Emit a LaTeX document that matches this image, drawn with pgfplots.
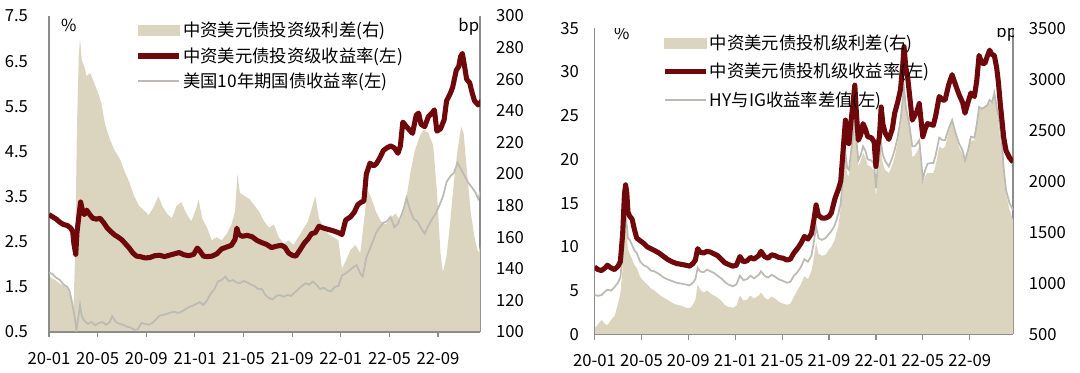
\documentclass[border=0pt]{standalone}
\usepackage{fontspec}
\setmainfont{Noto Sans CJK SC}
\usepackage{pgfplots}
\pgfplotsset{compat=1.18}
\definecolor{ared}{RGB}{110,8,10}
\definecolor{abeige}{RGB}{219,213,192}
\definecolor{agray}{RGB}{188,186,178}
\definecolor{spine}{RGB}{140,140,140}
\newcommand{\tfont}{\fontsize{12.5}{14}\selectfont}
\newcommand{\lfont}{\fontsize{13}{15}\selectfont}
\pgfplotsset{
  basestyle/.style={
    scale only axis, clip=true,
    tick label style={font=\tfont, text=black},
    /pgf/number format/assume math mode=true,
    /pgf/number format/1000 sep={},
    axis line style={spine, line width=0.9pt},
    ytick style={draw=none},
    xtick style={spine, line width=0.9pt},
    xtick align=outside, major tick length=4pt,
  },
  xstyle/.style={xtick={0,4,...,32}, xticklabels={20-01,20-05,20-09,21-01,21-05,21-09,22-01,22-05,22-09},
    xticklabel style={yshift=-7.5pt}},
  legstyle/.style={legend cell align=left,
    legend style={draw=none, fill=none, font=\lfont, inner sep=0pt,
      nodes={inner sep=1pt}},
    legend image code/.code={\draw[##1] (0pt,0pt) -- (31pt,0pt);}},
  leftpanel/.style={basestyle, at={(36.75pt,30.75pt)}, anchor=south west, width=323.25pt, height=237pt, xmin=0, xmax=35.45},
  rightpanel/.style={basestyle, at={(445.9pt,29pt)}, anchor=south west, width=313.9pt, height=229.5pt, xmin=0, xmax=35.7},
}
\begin{document}
\begin{tikzpicture}[x=1pt,y=1pt]
\path[use as bounding box] (0,0) rectangle (810,279.75);
% ---------------- LEFT PANEL ----------------
\begin{axis}[leftpanel,
  ymin=100, ymax=300, ytick={100,120,...,300}, axis y line*=right, axis x line=none,
  yticklabel style={xshift=8.5pt}]
\addplot[fill=abeige, draw=none] coordinates {
(0,135)(0.5,133)(1.0,130)(1.5,128)(1.8,122)(2.0,112)(2.15,150)(2.3,230)(2.45,275)(2.55,286)(2.7,272)(2.9,268)(3.1,262)(3.4,264)(3.7,258)(4.0,252)(4.3,245)(4.6,232)(5.0,222)(5.4,215)(5.8,210)(6.2,202)(6.6,195)(7.0,186)(7.4,180)(7.8,177)(8.2,174)(8.6,179)(9.0,186)(9.3,180)(9.7,175)(10.1,172)(10.5,180)(10.9,182)(11.3,175)(11.7,170)(12.1,178)(12.3,184)(12.6,172)(13.0,166)(13.4,158)(13.8,160)(14.2,158)(14.6,162)(15.0,168)(15.3,176)(15.5,200)(15.7,188)(16.1,186)(16.5,184)(16.9,180)(17.3,176)(17.7,170)(18.1,166)(18.5,168)(18.9,160)(19.3,156)(19.7,158)(20.1,155)(20.5,160)(20.9,165)(21.3,170)(21.6,178)(21.9,186)(22.2,172)(22.6,166)(23.0,162)(23.4,160)(23.8,158)(24.1,140)(24.4,145)(24.8,152)(25.2,155)(25.6,150)(25.9,170)(26.2,190)(26.5,185)(26.9,176)(27.3,170)(27.7,168)(28.1,172)(28.5,175)(28.9,170)(29.3,180)(29.7,200)(30.1,215)(30.5,224)(30.8,228)(31.2,226)(31.6,218)(31.9,190)(32.2,150)(32.4,138)(32.7,148)(33.0,170)(33.3,195)(33.6,215)(33.9,230)(34.1,226)(34.4,200)(34.7,175)(35.0,160)(35.3,150)(35.6,158)
} \closedcycle;
\end{axis}
\begin{axis}[leftpanel, xstyle, legstyle,
  ymin=0.5, ymax=7.5, ytick={0.5,1.5,...,7.5}, axis y line*=left, axis x line*=bottom,
  yticklabel style={xshift=-12.3pt, /pgf/number format/.cd, fixed, fixed zerofill, precision=1},
  legend style={at={(0.20,0.985)}, anchor=north west, row sep=4.5pt}]
\addlegendimage{legend image code/.code={\fill[abeige] (0pt,-3.8pt) rectangle (31pt,3.8pt);}}
\addlegendentry{中资美元债投资级利差(右)}
\addplot[agray, line width=1.3pt, forget plot] coordinates {
(0,1.82)(0.3,1.78)(0.6,1.70)(0.9,1.65)(1.2,1.55)(1.5,1.50)(1.7,1.40)(1.9,1.15)(2.1,0.85)(2.25,0.55)(2.4,0.80)(2.55,1.10)(2.7,0.85)(2.9,0.75)(3.2,0.68)(3.5,0.72)(3.8,0.65)(4.1,0.70)(4.4,0.72)(4.7,0.66)(5.0,0.72)(5.2,0.85)(5.5,0.72)(5.8,0.68)(6.1,0.66)(6.4,0.62)(6.7,0.60)(7.0,0.55)(7.3,0.56)(7.6,0.70)(7.9,0.68)(8.2,0.66)(8.5,0.70)(8.8,0.78)(9.1,0.86)(9.4,0.88)(9.7,0.90)(10.0,0.93)(10.3,0.95)(10.6,0.92)(10.9,0.95)(11.2,1.00)(11.5,1.05)(11.8,1.08)(12.1,1.12)(12.4,1.16)(12.7,1.10)(13.0,1.20)(13.3,1.35)(13.6,1.45)(13.9,1.62)(14.2,1.65)(14.5,1.73)(14.8,1.62)(15.1,1.65)(15.4,1.60)(15.7,1.58)(16.0,1.63)(16.3,1.60)(16.6,1.55)(16.9,1.52)(17.2,1.45)(17.5,1.45)(17.8,1.32)(18.1,1.25)(18.4,1.22)(18.7,1.30)(19.0,1.32)(19.3,1.28)(19.6,1.32)(19.9,1.30)(20.2,1.37)(20.5,1.45)(20.8,1.52)(21.1,1.58)(21.4,1.55)(21.7,1.62)(22.0,1.55)(22.3,1.45)(22.6,1.48)(22.9,1.42)(23.2,1.40)(23.5,1.50)(23.8,1.52)(24.1,1.75)(24.4,1.80)(24.7,1.86)(25.0,1.93)(25.3,1.98)(25.6,1.80)(25.8,1.73)(26.1,2.15)(26.4,2.35)(26.7,2.55)(26.9,2.70)(27.2,2.82)(27.5,2.92)(27.8,2.95)(28.1,3.05)(28.4,2.82)(28.7,2.90)(29.0,3.10)(29.2,3.25)(29.4,3.47)(29.7,3.20)(30.0,3.00)(30.3,2.95)(30.6,2.80)(30.9,2.68)(31.2,2.85)(31.5,3.00)(31.8,3.12)(32.1,3.30)(32.4,3.50)(32.7,3.82)(33.0,3.95)(33.3,4.02)(33.6,4.25)(33.9,4.10)(34.2,3.95)(34.5,3.80)(34.8,3.70)(35.1,3.58)(35.3,3.45)(35.6,3.70)
};
\addplot[ared, line width=3.8pt, line join=round] coordinates {
(0,3.10)(0.3,3.05)(0.6,3.00)(0.9,2.93)(1.2,2.88)(1.5,2.86)(1.8,2.80)(1.95,2.72)(2.05,2.45)(2.2,2.22)(2.3,2.70)(2.45,3.05)(2.6,3.38)(2.75,3.20)(2.9,3.10)(3.1,3.20)(3.3,3.12)(3.6,3.02)(3.9,3.00)(4.2,3.02)(4.5,2.92)(4.8,2.80)(5.1,2.72)(5.4,2.65)(5.7,2.60)(6.0,2.54)(6.3,2.45)(6.6,2.36)(6.9,2.25)(7.2,2.18)(7.5,2.17)(7.9,2.14)(8.3,2.15)(8.7,2.19)(9.1,2.20)(9.5,2.17)(9.9,2.20)(10.3,2.23)(10.7,2.26)(11.1,2.21)(11.5,2.19)(11.9,2.22)(12.2,2.36)(12.4,2.30)(12.7,2.18)(13.0,2.17)(13.4,2.18)(13.8,2.23)(14.2,2.34)(14.6,2.38)(15.0,2.42)(15.3,2.55)(15.45,2.80)(15.6,2.66)(15.9,2.62)(16.3,2.64)(16.7,2.61)(17.1,2.53)(17.5,2.48)(17.9,2.44)(18.3,2.37)(18.7,2.40)(19.1,2.42)(19.4,2.38)(19.7,2.25)(20.0,2.20)(20.3,2.18)(20.6,2.30)(21.0,2.47)(21.3,2.56)(21.6,2.68)(21.9,2.70)(22.2,2.84)(22.6,2.80)(23.0,2.77)(23.4,2.74)(23.8,2.70)(24.1,2.66)(24.4,2.98)(24.8,3.05)(25.1,3.15)(25.4,3.32)(25.7,3.38)(25.9,3.40)(26.1,4.00)(26.4,4.24)(26.7,4.18)(26.9,4.22)(27.2,4.35)(27.5,4.52)(27.8,4.58)(28.1,4.62)(28.4,4.58)(28.7,4.46)(28.9,4.62)(29.1,5.15)(29.4,5.05)(29.7,4.96)(29.9,4.90)(30.2,5.30)(30.4,5.35)(30.6,5.10)(30.9,5.05)(31.2,5.27)(31.5,5.35)(31.7,5.42)(31.9,4.95)(32.2,5.00)(32.5,5.20)(32.7,5.62)(33.0,5.78)(33.2,5.92)(33.5,6.30)(33.7,6.38)(33.85,6.60)(34.0,6.67)(34.2,6.35)(34.35,6.10)(34.6,6.02)(34.8,5.80)(35.0,5.62)(35.3,5.53)(35.6,5.62)
};
\addlegendentry{中资美元债投资级收益率(左)}
\addlegendimage{agray, line width=1.3pt}
\addlegendentry{美国10年期国债收益率(左)}
\node[font=\tfont] at (axis description cs:0.046,0.97) {\%};
\node[font=\tfont] at (axis description cs:0.974,0.965) {bp};
\end{axis}
% ---------------- RIGHT PANEL ----------------
\begin{axis}[rightpanel,
  ymin=500, ymax=3500, ytick={500,1000,...,3500}, axis y line*=right, axis x line=none,
  yticklabel style={xshift=8.3pt}]
\addplot[fill=abeige, draw=none] coordinates {
(0,560)(0.3,600)(0.6,640)(0.9,600)(1.1,590)(1.4,640)(1.7,680)(2.0,800)(2.2,900)(2.4,1150)(2.55,1500)(2.65,1690)(2.75,1500)(2.85,1330)(3.0,1290)(3.2,1240)(3.4,1180)(3.6,1150)(3.9,1060)(4.2,1020)(4.5,990)(4.8,950)(5.1,930)(5.5,890)(5.9,860)(6.2,840)(6.6,810)(7.0,790)(7.4,780)(7.8,760)(8.1,755)(8.4,790)(8.6,840)(8.8,990)(9.0,940)(9.3,910)(9.6,930)(9.9,900)(10.2,880)(10.5,860)(10.8,830)(11.1,790)(11.4,770)(11.8,760)(12.1,780)(12.4,880)(12.7,830)(13.0,840)(13.3,880)(13.6,850)(14.0,880)(14.2,910)(14.5,860)(14.8,840)(15.1,870)(15.4,850)(15.7,820)(16.1,800)(16.4,790)(16.7,800)(17.0,870)(17.3,930)(17.6,990)(17.9,1070)(18.2,1040)(18.5,1120)(18.7,1250)(18.9,1400)(19.1,1290)(19.4,1270)(19.7,1280)(20.0,1330)(20.2,1360)(20.5,1430)(20.8,1570)(21.0,1740)(21.2,1950)(21.4,2180)(21.55,2070)(21.7,2050)(21.85,2200)(22.05,2420)(22.2,2600)(22.35,2350)(22.5,2150)(22.7,2200)(22.9,2280)(23.1,2240)(23.3,2160)(23.6,2140)(23.85,2100)(24.0,1850)(24.15,2050)(24.3,2160)(24.45,2280)(24.6,2170)(24.8,2110)(25.1,2080)(25.4,2160)(25.6,2240)(25.85,2380)(26.1,2560)(26.3,2800)(26.4,2960)(26.55,2780)(26.7,2660)(26.9,2500)(27.1,2240)(27.3,2250)(27.5,2290)(27.7,2340)(27.85,2150)(28.0,1980)(28.2,2050)(28.4,2080)(28.7,2080)(28.9,2080)(29.1,2160)(29.4,2340)(29.7,2320)(29.9,2340)(30.2,2480)(30.5,2600)(30.8,2450)(31.1,2330)(31.4,2270)(31.6,2210)(31.85,2300)(32.1,2400)(32.4,2400)(32.6,2560)(32.8,2730)(33.05,2720)(33.3,2740)(33.5,2760)(33.7,2770)(33.9,2760)(34.1,2830)(34.3,2700)(34.45,2540)(34.6,2420)(34.75,2300)(34.9,2080)(35.1,1880)(35.4,1720)(35.7,1620)
} \closedcycle;
\end{axis}
\begin{axis}[rightpanel, xstyle, legstyle,
  ymin=0, ymax=35, ytick={0,5,...,35}, axis y line*=left, axis x line*=bottom,
  yticklabel style={xshift=-8.2pt},
  legend style={at={(0.161,0.985)}, anchor=north west, row sep=7pt}]
\addlegendimage{legend image code/.code={\fill[abeige] (0pt,-3.8pt) rectangle (31pt,3.8pt);}}
\addlegendentry{中资美元债投机级利差(右)}
\addplot[agray, line width=1.3pt, forget plot] coordinates {
(0,4.5)(0.3,4.4)(0.6,4.5)(0.9,4.9)(1.1,5.1)(1.4,5.0)(1.7,5.4)(2.0,5.9)(2.2,6.5)(2.4,9.0)(2.55,12.5)(2.65,13.8)(2.75,12.5)(2.85,11.0)(3.0,10.8)(3.2,10.2)(3.4,9.6)(3.6,9.3)(3.9,8.3)(4.2,7.9)(4.5,7.7)(4.8,7.3)(5.1,7.2)(5.5,6.9)(5.9,6.5)(6.2,6.3)(6.6,6.1)(7.0,5.9)(7.4,5.8)(7.8,5.7)(8.1,5.6)(8.4,5.9)(8.6,6.3)(8.8,7.6)(9.0,7.2)(9.3,7.1)(9.6,7.4)(9.9,7.2)(10.2,7.0)(10.5,6.7)(10.8,6.4)(11.1,6.0)(11.4,5.7)(11.8,5.5)(12.1,5.7)(12.4,6.7)(12.7,6.2)(13.0,6.3)(13.3,6.7)(13.6,6.4)(14.0,6.8)(14.2,7.2)(14.5,6.7)(14.8,6.5)(15.1,6.8)(15.4,6.6)(15.7,6.3)(16.1,6.1)(16.4,5.9)(16.7,6.0)(17.0,6.7)(17.3,7.1)(17.6,7.7)(17.9,8.6)(18.2,8.3)(18.5,9.0)(18.7,10.5)(18.9,12.3)(19.1,11.0)(19.4,10.8)(19.7,11.0)(20.0,11.5)(20.2,11.8)(20.5,12.5)(20.8,13.8)(21.0,15.0)(21.2,18.0)(21.4,20.7)(21.55,19.0)(21.7,18.8)(21.85,20.5)(22.05,23.0)(22.2,25.1)(22.35,22.0)(22.5,19.9)(22.7,20.5)(22.9,21.5)(23.1,21.0)(23.3,20.0)(23.6,19.9)(23.85,19.5)(24.0,16.7)(24.15,19.0)(24.3,20.2)(24.45,21.8)(24.6,20.5)(24.8,19.8)(25.1,19.2)(25.4,20.2)(25.6,21.1)(25.85,22.5)(26.1,24.5)(26.3,27.0)(26.4,28.1)(26.55,26.0)(26.7,25.0)(26.9,23.5)(27.1,21.5)(27.3,21.5)(27.5,21.8)(27.7,22.2)(27.85,20.0)(28.0,17.7)(28.2,18.8)(28.4,19.5)(28.7,19.6)(28.9,19.6)(29.1,20.5)(29.4,22.5)(29.7,22.2)(29.9,22.2)(30.2,23.5)(30.5,24.5)(30.8,23.0)(31.1,21.8)(31.4,21.0)(31.6,19.9)(31.85,21.0)(32.1,22.6)(32.4,22.5)(32.6,24.0)(32.8,26.0)(33.05,25.8)(33.3,26.0)(33.5,26.2)(33.7,26.8)(33.9,26.5)(34.1,27.6)(34.3,26.0)(34.45,24.9)(34.6,23.5)(34.75,21.8)(34.9,19.0)(35.1,16.5)(35.4,15.0)(35.7,14.2)
};
\addplot[ared, line width=3.8pt, line join=round] coordinates {
(0,7.7)(0.3,7.4)(0.6,7.3)(0.9,7.6)(1.1,7.9)(1.4,7.6)(1.7,7.4)(2.0,7.8)(2.2,8.3)(2.4,11.5)(2.55,16.0)(2.65,17.1)(2.75,16.2)(2.85,14.0)(3.0,13.5)(3.2,13.2)(3.4,12.0)(3.6,11.0)(3.9,10.7)(4.2,10.4)(4.5,10.0)(4.8,9.8)(5.1,9.6)(5.5,9.3)(5.9,8.9)(6.2,8.6)(6.6,8.3)(7.0,8.1)(7.4,8.0)(7.8,7.9)(8.1,7.8)(8.4,8.1)(8.6,8.5)(8.8,9.8)(9.0,9.4)(9.3,9.3)(9.6,9.5)(9.9,9.4)(10.2,9.2)(10.5,9.0)(10.8,8.6)(11.1,8.2)(11.4,8.0)(11.8,7.8)(12.1,7.9)(12.4,8.9)(12.7,8.3)(13.0,8.4)(13.3,8.8)(13.6,8.6)(14.0,9.0)(14.2,9.5)(14.5,8.9)(14.8,8.7)(15.1,9.1)(15.4,9.0)(15.7,8.8)(16.1,8.7)(16.4,8.5)(16.7,8.6)(17.0,9.3)(17.3,9.8)(17.6,10.4)(17.9,11.2)(18.2,10.9)(18.5,11.5)(18.7,13.0)(18.9,14.8)(19.1,13.6)(19.4,13.3)(19.7,13.3)(20.0,13.5)(20.2,13.9)(20.5,15.5)(20.8,16.6)(21.0,17.5)(21.2,21.0)(21.4,24.5)(21.55,22.0)(21.7,21.8)(21.85,24.0)(22.05,26.5)(22.2,28.5)(22.35,25.0)(22.5,22.2)(22.7,22.8)(22.9,24.1)(23.1,23.5)(23.3,22.6)(23.6,22.5)(23.85,22.0)(24.0,19.2)(24.15,21.5)(24.3,22.6)(24.45,26.0)(24.6,24.0)(24.8,23.0)(25.1,22.3)(25.4,23.5)(25.6,25.3)(25.85,26.5)(26.1,28.0)(26.3,31.0)(26.4,32.9)(26.55,30.5)(26.7,29.5)(26.9,27.0)(27.1,24.5)(27.3,25.0)(27.5,25.5)(27.7,26.4)(27.85,24.5)(28.0,22.6)(28.2,23.5)(28.4,24.1)(28.7,24.0)(28.9,23.9)(29.1,25.0)(29.4,27.2)(29.7,26.8)(29.9,26.8)(30.2,28.5)(30.5,29.7)(30.8,28.5)(31.1,27.4)(31.4,26.5)(31.6,25.3)(31.85,26.5)(32.1,27.6)(32.4,27.2)(32.6,29.0)(32.8,31.9)(33.05,31.0)(33.3,31.0)(33.5,31.8)(33.7,32.5)(33.9,32.0)(34.1,31.9)(34.3,30.5)(34.45,28.8)(34.6,26.5)(34.75,24.5)(34.9,22.5)(35.1,21.0)(35.4,20.2)(35.7,19.7)
};
\addlegendentry{中资美元债投机级收益率(左)}
\addlegendimage{agray, line width=1.3pt}
\addlegendentry{HY与IG收益率差值(左)}
\node[font=\tfont] at (axis description cs:0.065,0.985) {\%};
\node[font=\tfont] at (axis description cs:0.985,0.985) {bp};
\end{axis}
\end{tikzpicture}
\end{document}
